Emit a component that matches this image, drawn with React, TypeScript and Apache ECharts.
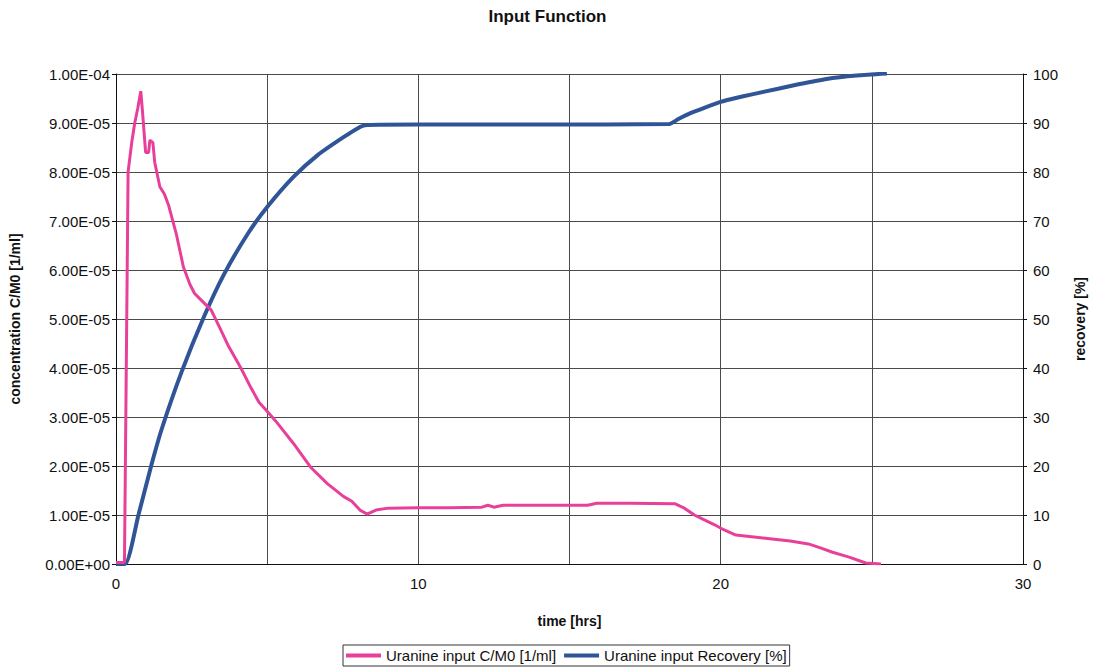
import React, { useEffect, useRef } from "react";
import * as echarts from "echarts";

// Uranine input: concentration C/M0 [1/ml] over time [hrs]
const concTimes = [
  0, 0.28, 0.4, 0.52, 0.62, 0.72, 0.82, 0.88, 0.98, 1.08, 1.12, 1.22, 1.28, 1.45,
  1.6, 1.74, 2.0, 2.23, 2.45, 2.6, 2.76, 3.15, 3.45, 3.7, 4.13, 4.46, 4.73, 5.02,
  5.28, 5.87, 6.43, 6.99, 7.52, 7.8, 8.07, 8.3, 8.6, 9.0, 10.0, 11.0, 12.1, 12.3,
  12.5, 12.8, 14.0, 15.6, 15.9, 17.0, 18.48, 18.8, 19.13, 19.46, 19.8, 20.1, 20.5,
  21.4, 22.3, 22.9, 23.3, 23.7, 24.25, 24.8, 25.3,
];
const concValues = [
  3e-7, 3e-7, 8.0e-5, 8.6e-5, 9.0e-5, 9.3e-5, 9.65e-5, 9.2e-5, 8.4e-5, 8.4e-5,
  8.65e-5, 8.6e-5, 8.2e-5, 7.7e-5, 7.55e-5, 7.32e-5, 6.72e-5, 6.06e-5, 5.7e-5,
  5.52e-5, 5.42e-5, 5.18e-5, 4.8e-5, 4.47e-5, 4.0e-5, 3.6e-5, 3.3e-5, 3.1e-5,
  2.92e-5, 2.46e-5, 1.98e-5, 1.64e-5, 1.38e-5, 1.28e-5, 1.1e-5, 1.02e-5, 1.1e-5,
  1.14e-5, 1.15e-5, 1.15e-5, 1.16e-5, 1.2e-5, 1.16e-5, 1.2e-5, 1.2e-5, 1.2e-5,
  1.24e-5, 1.24e-5, 1.23e-5, 1.14e-5, 1.0e-5, 0.9e-5, 0.8e-5, 0.7e-5, 0.59e-5,
  0.53e-5, 0.47e-5, 0.41e-5, 0.33e-5, 0.24e-5, 0.14e-5, 0.02e-5, 0,
];

// Uranine input: cumulative recovery [%]
const recTimes = [
  0, 0.3, 0.75, 1.18, 1.51, 2.17, 2.92, 3.58, 4.37, 5.02, 5.87, 6.66, 7.5, 8.07,
  8.3, 10.0, 14.0, 18.3, 18.6, 19.0, 19.5, 20.0, 20.5, 21.0, 21.9, 22.5, 23.5,
  24.5, 25.5,
];
const recValues = [
  0, 0, 10.2, 20.4, 27.5, 39.2, 50.6, 59.2, 67.5, 73.0, 79.0, 83.4, 87.0, 89.2,
  89.6, 89.7, 89.7, 89.8, 90.8, 92.0, 93.2, 94.3, 95.1, 95.8, 97.0, 97.8, 99.0,
  99.7, 100.1,
];

const xTicks = { min: 0, max: 30, step: 5, labelEvery: 10 };
const concTicks = { min: 0, max: 1e-4, step: 1e-5 };
const recTicks = { min: 0, max: 100, step: 10 };

const concName = "Uranine input C/M0 [1/ml]";
const recName = "Uranine input Recovery [%]";

function sciLabel(v: number): string {
  if (Math.abs(v) < 1e-12) return "0.00E+00";
  const [m, e] = v.toExponential(2).split("e");
  const n = parseInt(e, 10);
  return m + "E" + (n < 0 ? "-" : "+") + String(Math.abs(n)).padStart(2, "0");
}

const FONT = "'Liberation Sans', Arial, sans-serif";
const GRID_COLOR = "#4a4a4a";
const PINK = "#e8409a";
const BLUE = "#2f5597";

export default function App() {
  const ref = useRef<HTMLDivElement>(null);

  useEffect(() => {
    if (!ref.current) return;
    const chart = echarts.init(ref.current, undefined, { renderer: "svg" });
    const concData = concTimes.map((t, i) => [t, concValues[i]]);
    const recData = recTimes.map((t, i) => [t, recValues[i]]);

    chart.setOption({
      animation: false,
      backgroundColor: "#ffffff",
      textStyle: { fontFamily: FONT, color: "#111" },
      title: {
        text: "Input Function",
        left: "center",
        top: 3,
        textStyle: { fontFamily: FONT, fontSize: 17, fontWeight: "bold", color: "#111" },
      },
      grid: { left: 114, right: 67, top: 74, bottom: 108 },
      legend: {
        left: 343,
        top: 645,
        itemWidth: 35,
        itemHeight: 4,
        itemGap: 8,
        padding: [3, 3],
        borderColor: "#333",
        borderWidth: 1,
        icon: "rect",
        textStyle: { fontFamily: FONT, fontSize: 15, color: "#111" },
        data: [concName, recName],
      },
      xAxis: {
        type: "value",
        min: xTicks.min,
        max: xTicks.max,
        interval: xTicks.step,
        name: "time [hrs]",
        nameLocation: "middle",
        nameGap: 50,
        nameTextStyle: { fontFamily: FONT, fontSize: 14, fontWeight: "bold", color: "#111" },
        axisLine: { show: true, lineStyle: { color: "#111", width: 1 } },
        axisTick: { show: false },
        axisLabel: {
          fontFamily: FONT,
          fontSize: 15,
          color: "#111",
          margin: 12,
          formatter: (v: number) => (v % xTicks.labelEvery === 0 ? String(v) : ""),
        },
        splitLine: { show: true, lineStyle: { color: GRID_COLOR, width: 1 } },
      },
      yAxis: [
        {
          type: "value",
          min: concTicks.min,
          max: concTicks.max,
          interval: concTicks.step,
          position: "left",
          name: "concentration C/M0 [1/ml]",
          nameLocation: "middle",
          nameGap: 94,
          nameRotate: 90,
          nameTextStyle: { fontFamily: FONT, fontSize: 14, fontWeight: "bold", color: "#111" },
          axisLine: { show: true, lineStyle: { color: "#111", width: 1 } },
          axisTick: { show: true, length: 4, lineStyle: { color: "#111" } },
          axisLabel: {
            fontFamily: FONT,
            fontSize: 15,
            color: "#111",
            margin: 6,
            formatter: (v: number) => sciLabel(v),
          },
          splitLine: { show: true, lineStyle: { color: GRID_COLOR, width: 1 } },
        },
        {
          type: "value",
          min: recTicks.min,
          max: recTicks.max,
          interval: recTicks.step,
          position: "right",
          name: "recovery [%]",
          nameLocation: "middle",
          nameGap: 50,
          nameRotate: 90,
          nameTextStyle: { fontFamily: FONT, fontSize: 14, fontWeight: "bold", color: "#111" },
          axisLine: { show: true, lineStyle: { color: "#111", width: 1 } },
          axisTick: { show: true, length: 4, lineStyle: { color: "#111" } },
          axisLabel: { fontFamily: FONT, fontSize: 15, color: "#111", margin: 10 },
          splitLine: { show: false },
        },
      ],
      series: [
        {
          name: concName,
          type: "line",
          yAxisIndex: 0,
          data: concData,
          symbol: "none",
          lineStyle: { color: PINK, width: 3 },
          itemStyle: { color: PINK },
          z: 3,
        },
        {
          name: recName,
          type: "line",
          yAxisIndex: 1,
          data: recData,
          symbol: "none",
          smooth: 0.2,
          lineStyle: { color: BLUE, width: 4 },
          itemStyle: { color: BLUE },
          z: 2,
        },
      ],
    });

    return () => chart.dispose();
  }, []);

  return (
    <div
      ref={ref}
      style={{ position: "fixed", left: 0, top: 0, width: 1095, height: 672, background: "#fff" }}
    />
  );
}
